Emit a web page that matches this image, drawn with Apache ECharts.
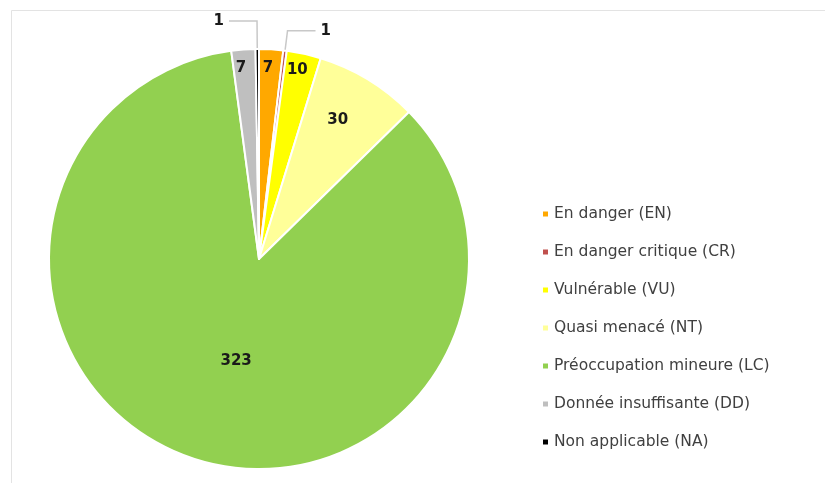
<!DOCTYPE html>
<html>
<head>
<meta charset="utf-8">
<script src="https://cdn.jsdelivr.net/npm/echarts@6/dist/echarts.min.js"></script>
<style>html,body{margin:0;padding:0;background:#fff}#c{width:825px;height:483px}</style>
</head>
<body>
<div id="c"></div>
<script>
const categories = ['En danger (EN)', 'En danger critique (CR)', 'Vulnérable (VU)', 'Quasi menacé (NT)', 'Préoccupation mineure (LC)', 'Donnée insuffisante (DD)', 'Non applicable (NA)'];
const values = [7, 1, 10, 30, 323, 7, 1];
const colors = ['#FFA800', '#C0504D', '#FFFF00', '#FFFF99', '#92D050', '#BFBFBF', '#000000'];

// label placement (fraction of radius for inside labels; 0 = outside), angular tweak in degrees (clockwise)
const labelRadiusFrac = [0.91, 0, 0.92, 0.76, 0.5, 0.915, 0];
const labelAngleShift = [-0.6, 0, -0.9, -1.8, -6.4, -1.1, 0];
const labelLineLen = [0, 20, 0, 0, 0, 0, 28];
const CX = 259, CY = 259, R = 210;

const chart = echarts.init(document.getElementById('c'));
const data = categories.map((name, i) => {
  const outside = labelRadiusFrac[i] === 0;
  return {
    name, value: values[i],
    itemStyle: { color: colors[i] },
    label: outside ? { position: 'outside' } : { position: 'inside' },
    labelLine: outside ? { show: true, length: labelLineLen[i], length2: 28, lineStyle: { color: '#C8C8C8', width: 1.5 } } : { show: false }
  };
});

chart.setOption({
  animation: false,
  graphic: [{
    type: 'rect', silent: true,
    shape: { x: 11.5, y: 10.5, width: 900, height: 600 },
    style: { fill: 'none', stroke: '#E3E3E3', lineWidth: 1 }
  }],
  legend: {
    orient: 'vertical', left: 536, top: 201,
    icon: 'rect', itemWidth: 7, itemHeight: 7, itemGap: 22,
    textStyle: { fontFamily: 'DejaVu Sans', fontSize: 15.5, color: '#404040' },
    data: categories
  },
  series: [{
    type: 'pie',
    center: [CX, CY], radius: R,
    startAngle: 90, clockwise: true,
    avoidLabelOverlap: false,
    itemStyle: { borderColor: '#fff', borderWidth: 2 },
    label: { show: true, formatter: '{c}', fontFamily: 'DejaVu Sans', fontWeight: 'bold', fontSize: 15, color: '#1A1A1A' },
    labelLayout: function (p) {
      const f = labelRadiusFrac[p.dataIndex];
      if (!f) return {};
      const r = p.labelRect;
      const lx = r.x + r.width / 2, ly = r.y + r.height / 2;
      const a = Math.atan2(ly - CY, lx - CX) + labelAngleShift[p.dataIndex] * Math.PI / 180;
      const tx = CX + Math.cos(a) * f * R, ty = CY + Math.sin(a) * f * R;
      return { dx: tx - lx, dy: ty - ly };
    },
    emphasis: { disabled: true },
    data
  }]
});
</script>
</body>
</html>
